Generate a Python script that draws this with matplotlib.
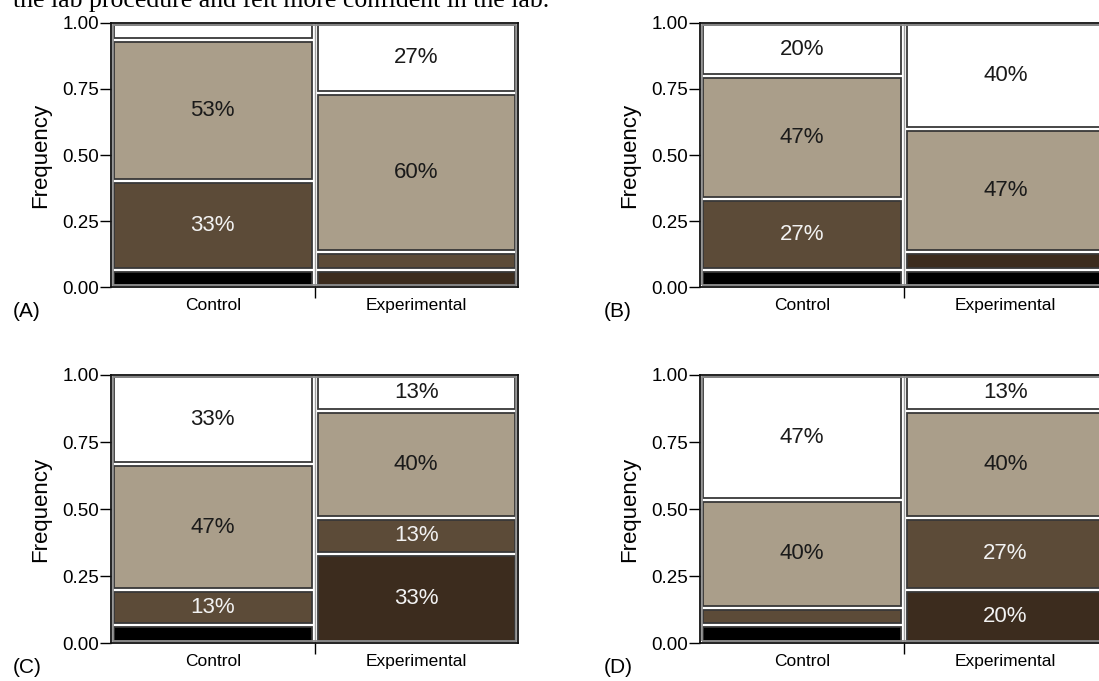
import matplotlib
matplotlib.use("Agg")
import matplotlib.pyplot as plt
from matplotlib.patches import Rectangle

plt.rcParams["font.family"] = ["Liberation Sans", "DejaVu Sans"]

# Response levels, bottom to top of each column
levels = ["Strongly disagree", "Disagree", "Neutral", "Agree", "Strongly agree"]
level_colors = ["#000000", "#3c2c1e", "#5c4b38", "#aa9e8a", "#ffffff"]
level_text_colors = ["#f2f2f2", "#f2f2f2", "#f2f2f2", "#1a1a1a", "#1a1a1a"]

groups = ["Control", "Experimental"]
panel_names = ["(A)", "(B)", "(C)", "(D)"]

# Counts per level (15 students per group)
counts_a_control = [1, 0, 5, 8, 1]
counts_a_experimental = [0, 1, 1, 9, 4]
counts_b_control = [1, 0, 4, 7, 3]
counts_b_experimental = [1, 1, 0, 7, 6]
counts_c_control = [1, 0, 2, 7, 5]
counts_c_experimental = [0, 5, 2, 6, 2]
counts_d_control = [1, 0, 1, 6, 7]
counts_d_experimental = [0, 3, 4, 6, 2]

panels = [
    (counts_a_control, counts_a_experimental),
    (counts_b_control, counts_b_experimental),
    (counts_c_control, counts_c_experimental),
    (counts_d_control, counts_d_experimental),
]

W, H = 1099, 681
fig = plt.figure(figsize=(W / 100, H / 100), dpi=100)

fig.text(13 / W, 1 - 7 / H, "the lab procedure and felt more confident in the lab.",
         family=["Liberation Serif", "DejaVu Serif"], fontsize=18.5,
         ha="left", va="baseline", color="black")

# axes boxes in pixels: left, top, width, height
ax_w = 407
boxes = [
    (111, 22.7, ax_w, 264.6),
    (700, 22.7, ax_w, 264.6),
    (111, 375.0, ax_w, 268.3),
    (700, 375.0, ax_w, 268.3),
]

for (left, top, aw, ah), (c_ctrl, c_exp), name in zip(boxes, panels, panel_names):
    ax = fig.add_axes([left / W, 1 - (top + ah) / H, aw / W, ah / H])
    ax.set_xlim(0, 1)
    ax.set_ylim(0, 1)

    gx = 3.0 / aw
    gy = 2.0 / ah
    for gi, cnts in enumerate((c_ctrl, c_exp)):
        total = sum(cnts)
        x0, x1 = gi * 0.5, (gi + 1) * 0.5
        y = 0.0
        for li, c in enumerate(cnts):
            if c == 0:
                continue
            h = c / total
            ax.add_patch(Rectangle((x0 + gx, y + gy), (x1 - x0) - 2 * gx, h - 2 * gy,
                                   facecolor=level_colors[li], edgecolor="#383838",
                                   linewidth=1.3, zorder=2))
            if c >= 2:
                ax.text((x0 + x1) / 2, y + h / 2, f"{round(100 * c / total)}%",
                        ha="center", va="center", fontsize=16,
                        color=level_text_colors[li], zorder=3)
            y += h

    # column divider and inner frame line
    ax.axvline(0.5, color="#a0a0a0", linewidth=1.0, zorder=1)
    ix, iy = 2.2 / aw, 2.2 / ah
    ax.add_patch(Rectangle((ix, iy), 1 - 2 * ix, 1 - 2 * iy, transform=ax.transAxes,
                           fill=False, edgecolor="#8c8c8c", linewidth=1.3, zorder=4,
                           clip_on=False))
    for s in ax.spines.values():
        s.set_color("#111111")
        s.set_linewidth(1.3)
        s.set_zorder(5)

    ax.set_yticks([0, 0.25, 0.5, 0.75, 1.0])
    ax.set_yticklabels(["0.00", "0.25", "0.50", "0.75", "1.00"])
    ax.tick_params(axis="y", length=8, width=1, pad=0.5, labelsize=13.5)
    ax.set_xticks([0.5])
    ax.set_xticklabels([""])
    ax.set_xticks([0.25, 0.75], minor=True)
    ax.set_xticklabels(groups, minor=True)
    ax.tick_params(axis="x", which="major", length=8, width=1)
    ax.tick_params(axis="x", which="minor", length=0, pad=8, labelsize=12.5)

    ax.set_ylabel("Frequency", fontsize=16, labelpad=8)
    label_x = 13 if left < 300 else left - 96
    fig.text(label_x / W, 1 - (top + ah + 15) / H, name, fontsize=15,
             ha="left", va="top")

fig.savefig("out.png", dpi=100)
